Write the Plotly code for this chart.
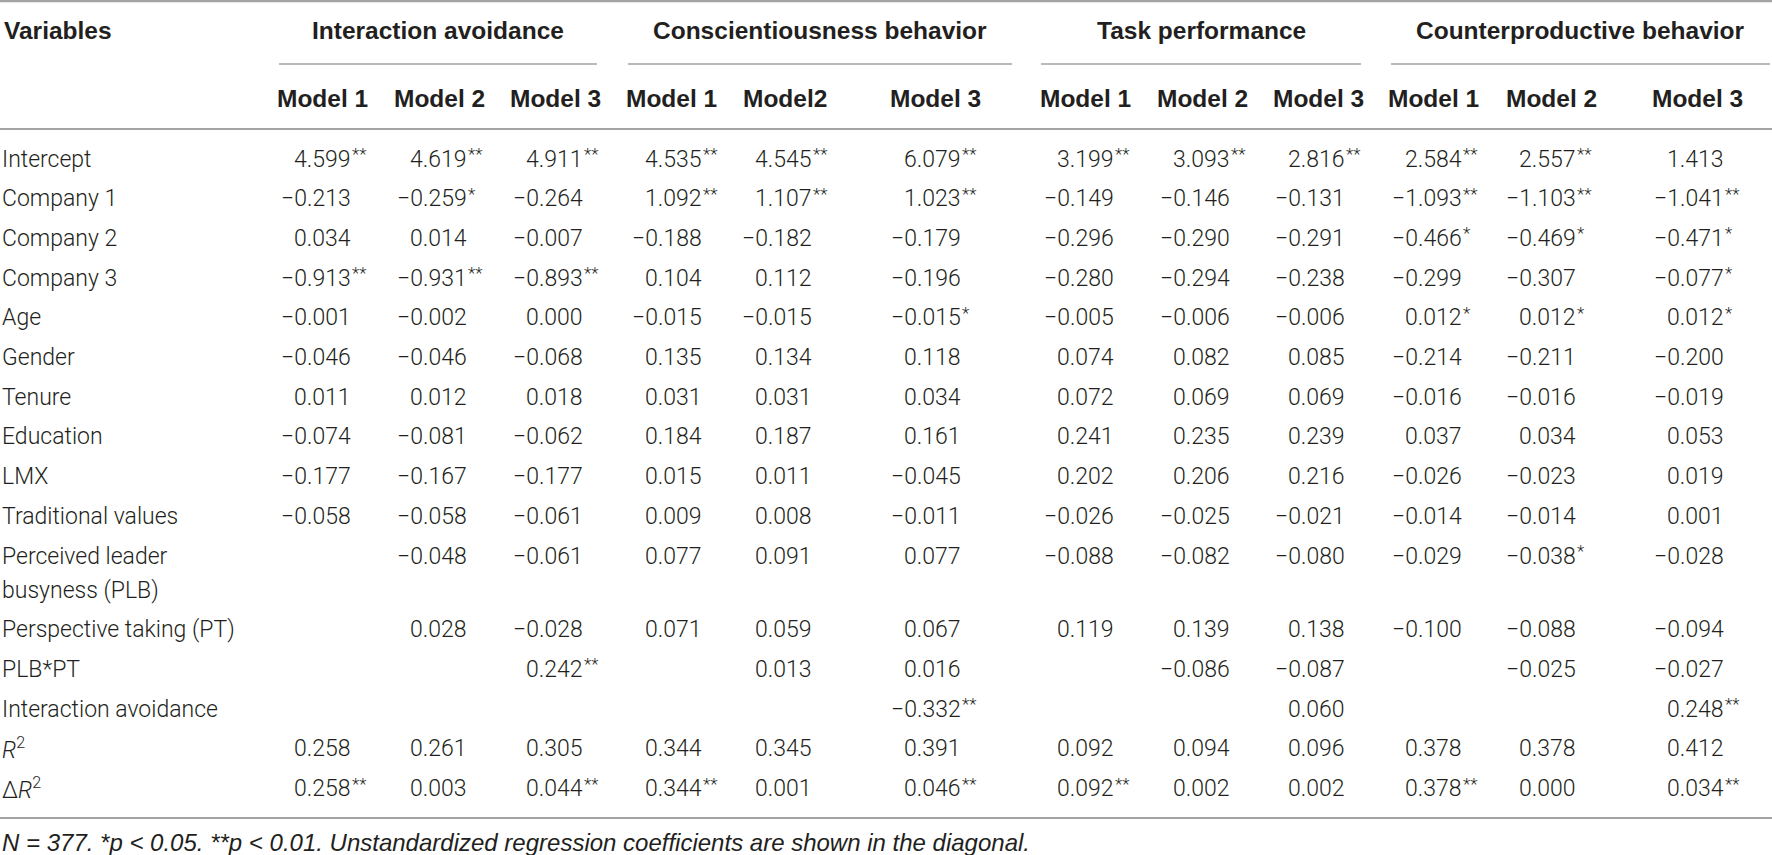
import plotly.graph_objects as go

# --- table content -------------------------------------------------------
variables = ["Intercept", "Company 1", "Company 2", "Company 3", "Age", "Gender",
             "Tenure", "Education", "LMX", "Traditional values",
             "Perceived leader\nbusyness (PLB)", "Perspective taking (PT)",
             "PLB*PT", "Interaction avoidance",
             "<i>R</i><sup>2</sup>", "Δ<i>R</i><sup>2</sup>"]

groups = ["Interaction avoidance", "Conscientiousness behavior",
          "Task performance", "Counterproductive behavior"]

models = ["Model 1", "Model 2", "Model 3",
          "Model 1", "Model2", "Model 3",
          "Model 1", "Model 2", "Model 3",
          "Model 1", "Model 2", "Model 3"]

interaction_avoidance = [
    ["4.599**", "4.619**", "4.911**"],
    ["-0.213", "-0.259*", "-0.264"],
    ["0.034", "0.014", "-0.007"],
    ["-0.913**", "-0.931**", "-0.893**"],
    ["-0.001", "-0.002", "0.000"],
    ["-0.046", "-0.046", "-0.068"],
    ["0.011", "0.012", "0.018"],
    ["-0.074", "-0.081", "-0.062"],
    ["-0.177", "-0.167", "-0.177"],
    ["-0.058", "-0.058", "-0.061"],
    ["", "-0.048", "-0.061"],
    ["", "0.028", "-0.028"],
    ["", "", "0.242**"],
    ["", "", ""],
    ["0.258", "0.261", "0.305"],
    ["0.258**", "0.003", "0.044**"],
]

conscientiousness = [
    ["4.535**", "4.545**", "6.079**"],
    ["1.092**", "1.107**", "1.023**"],
    ["-0.188", "-0.182", "-0.179"],
    ["0.104", "0.112", "-0.196"],
    ["-0.015", "-0.015", "-0.015*"],
    ["0.135", "0.134", "0.118"],
    ["0.031", "0.031", "0.034"],
    ["0.184", "0.187", "0.161"],
    ["0.015", "0.011", "-0.045"],
    ["0.009", "0.008", "-0.011"],
    ["0.077", "0.091", "0.077"],
    ["0.071", "0.059", "0.067"],
    ["", "0.013", "0.016"],
    ["", "", "-0.332**"],
    ["0.344", "0.345", "0.391"],
    ["0.344**", "0.001", "0.046**"],
]

task_performance = [
    ["3.199**", "3.093**", "2.816**"],
    ["-0.149", "-0.146", "-0.131"],
    ["-0.296", "-0.290", "-0.291"],
    ["-0.280", "-0.294", "-0.238"],
    ["-0.005", "-0.006", "-0.006"],
    ["0.074", "0.082", "0.085"],
    ["0.072", "0.069", "0.069"],
    ["0.241", "0.235", "0.239"],
    ["0.202", "0.206", "0.216"],
    ["-0.026", "-0.025", "-0.021"],
    ["-0.088", "-0.082", "-0.080"],
    ["0.119", "0.139", "0.138"],
    ["", "-0.086", "-0.087"],
    ["", "", "0.060"],
    ["0.092", "0.094", "0.096"],
    ["0.092**", "0.002", "0.002"],
]

counterproductive = [
    ["2.584**", "2.557**", "1.413"],
    ["-1.093**", "-1.103**", "-1.041**"],
    ["-0.466*", "-0.469*", "-0.471*"],
    ["-0.299", "-0.307", "-0.077*"],
    ["0.012*", "0.012*", "0.012*"],
    ["-0.214", "-0.211", "-0.200"],
    ["-0.016", "-0.016", "-0.019"],
    ["0.037", "0.034", "0.053"],
    ["-0.026", "-0.023", "0.019"],
    ["-0.014", "-0.014", "0.001"],
    ["-0.029", "-0.038*", "-0.028"],
    ["-0.100", "-0.088", "-0.094"],
    ["", "-0.025", "-0.027"],
    ["", "", "0.248**"],
    ["0.378", "0.378", "0.412"],
    ["0.378**", "0.000", "0.034**"],
]

footnote = ("<i>N = 377. *p &lt; 0.05. **p &lt; 0.01. Unstandardized regression "
            "coefficients are shown in the diagonal.</i>")

# --- layout (pixels) -----------------------------------------------------
W, H = 1772, 855
num_right = [353, 469, 585, 704, 814, 963, 1116, 1232, 1347, 1464, 1578, 1726]
model_center = [322, 439, 555, 671, 785, 935, 1085, 1202, 1318, 1433, 1551, 1697]
spans = [(279, 597), (628, 1012), (1041, 1361), (1391, 1770)]
row_pitch, wrap_pitch, first_row = 39.7, 34, 159

BODY = dict(family="Roboto, 'Liberation Sans', Arial", size=23, color="#231f20", weight=300)
BOLD = dict(family="'Liberation Sans', Arial", size=24.5, color="#231f20", weight="bold")
STAR = dict(family="Roboto, 'Liberation Sans', Arial", size=17, color="#231f20", weight=300)
NOTE = dict(family="'Liberation Sans', Arial", size=24, color="#231f20")
LINE = "#a3a3a3"

blocks = [interaction_avoidance, conscientiousness, task_performance, counterproductive]
columns = [[row[k] for row in b] for b in blocks for k in range(3)]

ann = []
shapes = []

# header
ann.append(dict(x=2, y=30, text="Variables", xanchor="left", font=BOLD))
for g, (x0, x1) in zip(groups, spans):
    ann.append(dict(x=(x0 + x1) / 2, y=30, text=g, xanchor="center", font=BOLD))
    shapes.append(dict(type="line", x0=x0, x1=x1, y0=64, y1=64,
                       line=dict(color=LINE, width=1.5)))
for m, xc in zip(models, model_center):
    ann.append(dict(x=xc, y=98, text=m, xanchor="center", font=BOLD))

# body rows
row_y = []
y = first_row
for lab in variables:
    row_y.append(y)
    parts = lab.split("\n")
    for j, p in enumerate(parts):
        ann.append(dict(x=0, y=y + j * wrap_pitch, text=p, xanchor="left", font=BODY))
    y += row_pitch + wrap_pitch * (len(parts) - 1)

for c, col in enumerate(columns):
    for r, cell in enumerate(col):
        if not cell:
            continue
        num = cell.rstrip("*").replace("-", "\u2212")
        stars = cell[len(cell.rstrip("*")):]
        ann.append(dict(x=num_right[c], y=row_y[r], text=num, xanchor="right", font=BODY))
        if stars:
            ann.append(dict(x=num_right[c] - 3, y=row_y[r] - 5, text=stars,
                            xanchor="left", font=STAR))

# rules
for yy, w in [(1, 2.5), (129, 2), (818, 2)]:
    shapes.append(dict(type="line", x0=0, x1=W, y0=yy, y1=yy,
                       line=dict(color=LINE, width=w)))

ann.append(dict(x=0, y=842, text=footnote, xanchor="left", font=NOTE))

for a in ann:
    a.update(xref="x", yref="y", showarrow=False, yanchor="middle")
for s in shapes:
    s.update(xref="x", yref="y")

fig = go.Figure()
fig.update_layout(
    width=W, height=H,
    margin=dict(l=0, r=0, t=0, b=0),
    paper_bgcolor="white", plot_bgcolor="white",
    xaxis=dict(range=[0, W], visible=False, fixedrange=True),
    yaxis=dict(range=[H, 0], visible=False, fixedrange=True),
    annotations=ann, shapes=shapes,
    showlegend=False,
)
fig.write_html("out.html", config={"displayModeBar": False},
               post_script="document.body.style.margin='0';"
                           "document.body.style.overflow='hidden';")
